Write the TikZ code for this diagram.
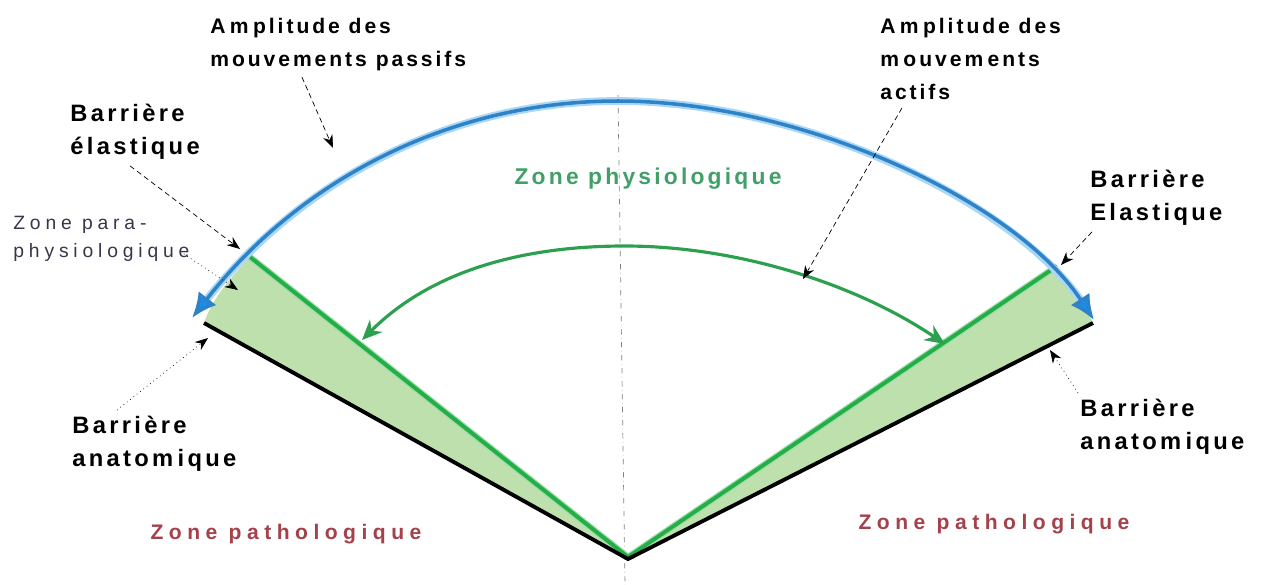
\documentclass[tikz,border=0pt]{standalone}
\usepackage{fontspec}
\setmainfont{Liberation Sans}
\newfontfamily\trackfont[LetterSpace=14]{Liberation Sans}
\newfontfamily\widefont[LetterSpace=26]{Liberation Sans}
\newfontfamily\physfont[LetterSpace=14]{Liberation Sans}
\newfontfamily\smallfont[LetterSpace=25]{Liberation Sans}
\usetikzlibrary{arrows.meta, calc}

\definecolor{arcblue}{RGB}{45,130,200}
\definecolor{archalo}{RGB}{170,215,245}
\definecolor{tipblue}{RGB}{30,140,230}
\definecolor{barrgreen}{RGB}{35,175,70}
\definecolor{zonefill}{RGB}{190,224,172}
\definecolor{actgreen}{RGB}{45,160,80}
\definecolor{physgreen}{RGB}{65,160,105}
\definecolor{pathred}{RGB}{165,65,75}
\definecolor{paragray}{RGB}{55,55,75}

% gap after an m, as in the scan
\newcommand{\mgap}{\kern2.5pt}
% passive range curve
\newcommand{\passarc}{(192,318) .. controls (300,180) and (450,101) .. (618,101)
            .. controls (800,101) and (1015,200) .. (1094,320)}

\begin{document}
\begin{tikzpicture}[
  x=0.02cm, y=-0.02cm,
  lbl/.style={font=\trackfont\bfseries\fontsize{#1}{18.7}\selectfont, align=left, anchor=north west, inner sep=0pt},
  lbl/.default=12,
  para/.style={font=\smallfont\fontsize{11}{15.9}\selectfont, text=paragray, align=left, anchor=north west, inner sep=0pt},
  ptr/.style={-{Stealth[length=2.6mm, width=2mm]}, densely dashed, thin},
  barr/.style={line width=2.2pt, #1},
]
\useasboundingbox (0,0) rectangle (1279,585);

% ── key points ──
\coordinate (O)  at (628,557);
\coordinate (EL) at (250,257);
\coordinate (AL) at (204,323);
\coordinate (ER) at (1057,266);
\coordinate (AR) at (1093,323);

% ── para-physiological wedges ──
\fill[zonefill] (O) -- (EL) .. controls (228,280) and (212,300) .. (AL) -- cycle;
\fill[zonefill] (O) -- (ER) .. controls (1072,285) and (1086,305) .. (AR) -- cycle;

% ── axis ──
\draw[gray, thin, dash dot] (618,95) -- (625,585);

% ── barriers ──
\draw[barr=barrgreen!45, line width=3.6pt] (EL) -- (O) -- (ER);
\draw[barr=barrgreen] (EL) -- (O) -- (ER);
\draw[barr=black] (AL) -- ($(O)+(0,2)$) -- (AR);

% ── passive range (blue) ──
\draw[archalo, line width=4.4pt, shorten <=9pt, shorten >=9pt] \passarc;
\draw[arcblue, line width=2pt, {Latex[length=5mm, width=4.5mm, fill=tipblue]}-{Latex[length=5mm, width=4.5mm, fill=tipblue]}] \passarc;

% ── active range (green) ──
\draw[actgreen, line width=1.8pt, {Stealth[length=4mm, width=3.5mm]}-{Stealth[length=4mm, width=3.5mm]}]
  (362,340) .. controls (430,272) and (520,246) .. (625,246)
            .. controls (730,246) and (850,280) .. (945,344);

% ── labels ──
\node[lbl] (passif) at (210,18) {A\mgap m\mgap plitude des\\mouvements passifs};
\node[lbl] (actif)  at (880,18) {A\mgap m\mgap plitude des\\m\mgap ouvem\mgap ents\\actifs};
\node[lbl=13.5] (elg)    at (70,104) {Barrière\\élastique};
\node[lbl=13.5] (eld)    at (1090,170) {Barrière\\Elastique};
\node[lbl=13.5] (anag)   at (72,416) {Barrière\\anatom\mgap ique};
\node[lbl=13.5] (anad)   at (1080,399) {Barrière\\anatom\mgap ique};
\node[para] (parag) at (13,216) {Zone para-\\physiologique};
\node[font=\physfont\bfseries\fontsize{13}{13}\selectfont, text=physgreen, inner sep=0pt] (phys) at (648,179) {Zone physiologique};
\node[font=\widefont\bfseries\fontsize{12}{12}\selectfont, text=pathred, inner sep=0pt] (pathg) at (286,534) {Zone pathologique};
\node[font=\widefont\bfseries\fontsize{12}{12}\selectfont, text=pathred, inner sep=0pt] (pathd) at (994,524) {Zone pathologique};

% ── pointers ──
\coordinate (tPas) at (333,148);
\coordinate (tAct) at (803,279);
\coordinate (tElg) at (240,249);
\coordinate (tPar) at (238,290);
\coordinate (tAng) at (208,338);
\coordinate (tEld) at (1061,265);
\coordinate (tAnd) at (1050,350);
\draw[ptr] (passif.south west) ++(92,6) -- (tPas);
\draw[ptr] (actif.south west) ++(22,8) -- (tAct);
\draw[ptr] (elg.south west) ++(60,6) -- (tElg);
\draw[ptr, dotted] (parag.south east) ++(-6,-8) -- (tPar);
\draw[ptr, dotted] (anag.north west) ++(45,-6) -- (tAng);
\draw[ptr] (eld.south west) ++(2,6) -- (tEld);
\draw[ptr, dotted] (anad.north west) ++(-2,-6) -- (tAnd);
\end{tikzpicture}
\end{document}
